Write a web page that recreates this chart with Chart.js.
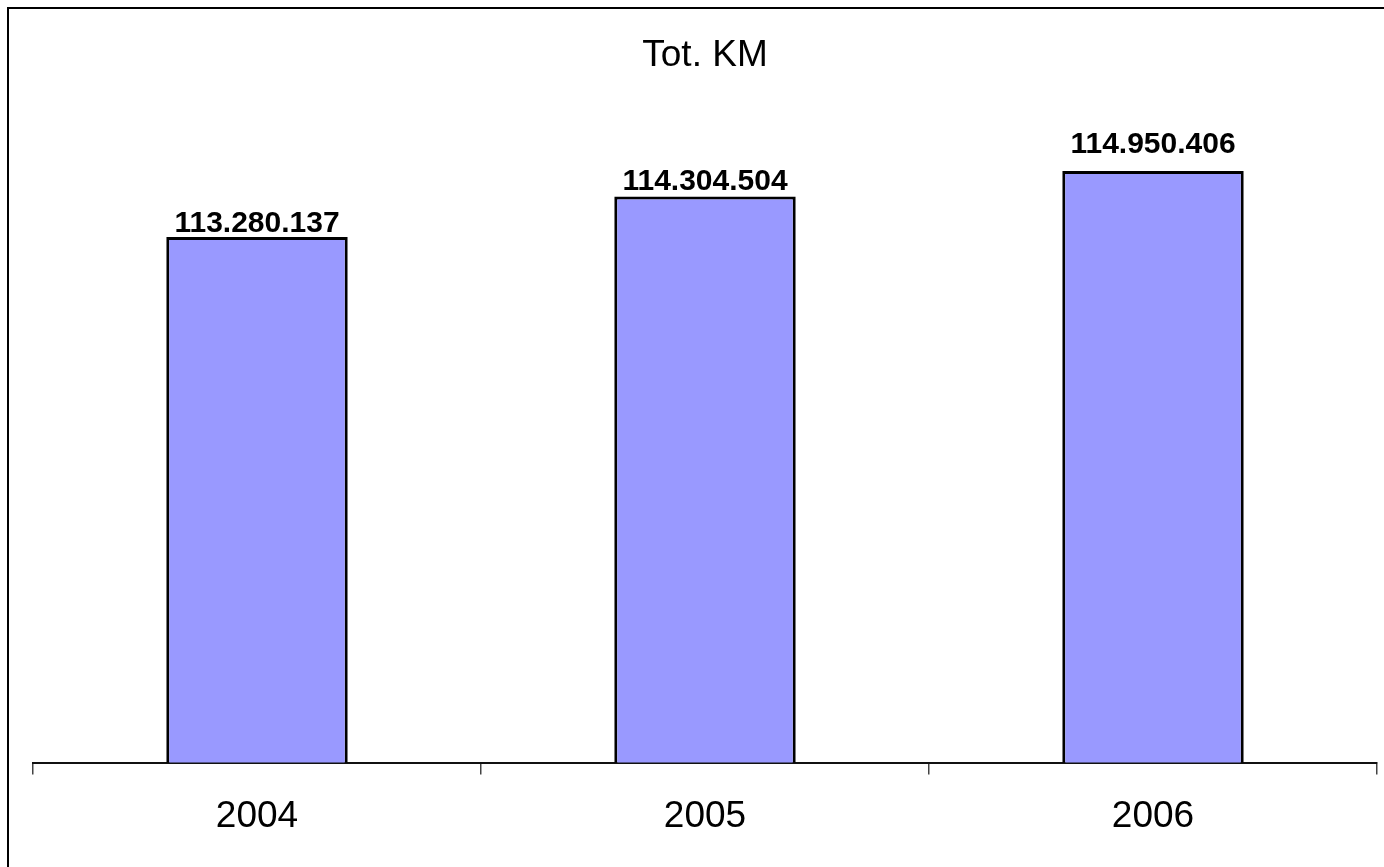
<!DOCTYPE html>
<html>
<head>
<meta charset="utf-8">
<script src="https://cdn.jsdelivr.net/npm/chart.js@4"></script>
<style>
  html, body { margin: 0; padding: 0; background: #fff; overflow: hidden; }
  #wrap { position: relative; width: 1384px; height: 867px; }
  #frame {
    position: absolute; left: 7px; top: 7px; width: 1400px; height: 900px;
    border-left: 2px solid #000; border-top: 2px solid #000; pointer-events: none;
  }
</style>
</head>
<body>
<div id="wrap">
  <canvas id="km-chart" width="1384" height="867"></canvas>
  <div id="frame"></div>
</div>
<script>
// data
const years = ['2004', '2005', '2006'];
const totKm = [113280137, 114304504, 114950406];
const yMin = 100000000;
const yMax = 116000000;

function fmtIt(n) {
  // 113280137 -> 113.280.137
  return String(n).replace(/\B(?=(\d{3})+(?!\d))/g, '.');
}

// draws value labels over the bars
const valueLabels = {
  id: 'valueLabels',
  afterDatasetsDraw(chart, args, opts) {
    const ctx = chart.ctx;
    const meta = chart.getDatasetMeta(0);
    ctx.save();
    ctx.font = 'bold 30px "Liberation Sans", Arial, sans-serif';
    ctx.fillStyle = '#000';
    ctx.textAlign = 'center';
    ctx.textBaseline = 'alphabetic';
    meta.data.forEach((bar, i) => {
      const gap = opts.gaps[i] || 6;
      ctx.fillText(fmtIt(chart.data.datasets[0].data[i]), bar.x, bar.y - gap);
    });
    ctx.restore();
  }
};

const ctx = document.getElementById('km-chart').getContext('2d');
const chart = new Chart(ctx, {
  type: 'bar',
  data: {
    labels: years,
    datasets: [{
      label: 'Tot. KM',
      data: totKm,
      backgroundColor: '#9999FF',
      borderColor: '#000',
      borderWidth: 3,
      borderSkipped: false,
      barPercentage: 0.405,
      categoryPercentage: 1.0
    }]
  },
  options: {
    responsive: false,
    animation: false,
    devicePixelRatio: 1,
    layout: { padding: { left: 33, right: 7, top: 0, bottom: 8 } },
    plugins: {
      legend: { display: false },
      tooltip: { enabled: false },
      title: {
        display: true,
        text: 'Tot. KM',
        color: '#000',
        font: { family: '"Liberation Sans", Arial, sans-serif', size: 37, weight: 'normal', lineHeight: 1.2 },
        padding: { top: 34, bottom: 51 }
      },
      valueLabels: { gaps: [5, 6, 18] }
    },
    scales: {
      y: { display: false, min: yMin, max: yMax },
      x: {
        offset: true,
        border: { display: true, color: '#111', width: 2 },
        grid: { offset: true, drawOnChartArea: false, drawTicks: true, tickLength: 12, color: '#444', lineWidth: 1.5 },
        ticks: {
          color: '#000',
          padding: 20,
          font: { family: '"Liberation Sans", Arial, sans-serif', size: 37 }
        }
      }
    }
  },
  plugins: [valueLabels]
});
</script>
</body>
</html>
